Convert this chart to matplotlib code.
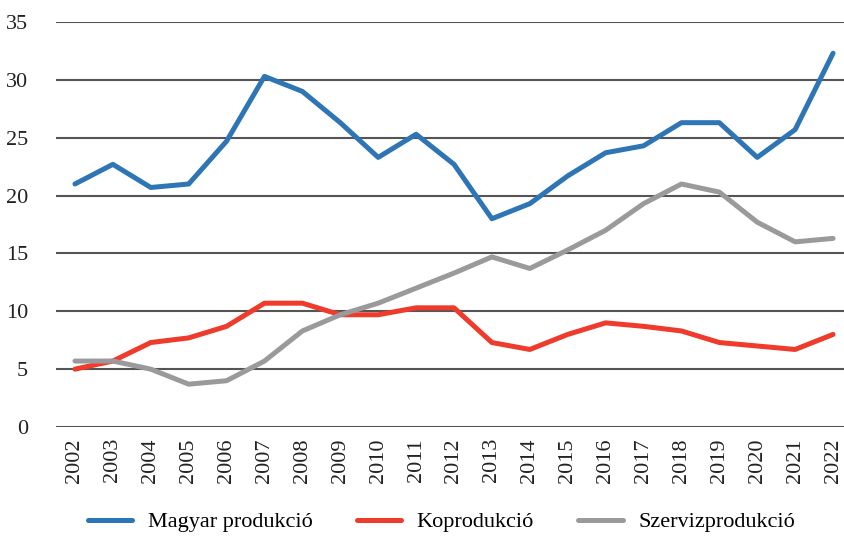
import matplotlib.pyplot as plt

years = [str(y) for y in range(2002, 2023)]
magyar = [21.0, 22.7, 20.7, 21.0, 24.7, 30.3, 29.0, 26.3, 23.3, 25.3, 22.7,
          18.0, 19.3, 21.7, 23.7, 24.3, 26.3, 26.3, 23.3, 25.7, 32.3]
koprod = [5.0, 5.7, 7.3, 7.7, 8.7, 10.7, 10.7, 9.7, 9.7, 10.3, 10.3,
          7.3, 6.7, 8.0, 9.0, 8.7, 8.3, 7.3, 7.0, 6.7, 8.0]
szerviz = [5.7, 5.7, 5.0, 3.7, 4.0, 5.7, 8.3, 9.7, 10.7, 12.0, 13.3,
           14.7, 13.7, 15.3, 17.0, 19.3, 21.0, 20.3, 17.7, 16.0, 16.3]

plt.rcParams['font.family'] = ['Liberation Serif', 'DejaVu Serif']

fig = plt.figure(figsize=(8.44, 5.4), dpi=100)
ax = fig.add_axes([56 / 844, 113 / 540, 796 / 844, 405 / 540])

x = range(len(years))
ax.plot(x, magyar, color='#2E75B6', lw=3.6, label='Magyar produkció', solid_capstyle='round')
ax.plot(x, koprod, color='#EE3B2B', lw=3.6, label='Koprodukció', solid_capstyle='round')
ax.plot(x, szerviz, color='#9A9A9C', lw=3.6, label='Szervizprodukció', solid_capstyle='round')

ax.set_xlim(-0.5, len(years) - 0.5)
ax.set_ylim(0, 35)
ax.set_yticks(range(0, 36, 5))
ax.set_xticks(list(x))
ax.set_xticklabels(years, rotation=90)
ax.tick_params(length=0, labelsize=16, colors='#222222')
ax.tick_params(axis='y', pad=20)
ax.tick_params(axis='x', pad=8)
ax.yaxis.grid(True, color='#555555', lw=1.5)
ax.set_axisbelow(True)
for s in ax.spines.values():
    s.set_visible(False)

fig.legend(loc='center', bbox_to_anchor=(0.523, 18 / 540), ncol=3,
           frameon=False, fontsize=16, handlelength=2.0, columnspacing=2.0,
           handletextpad=0.7)

fig.savefig('out.png', dpi=100)
